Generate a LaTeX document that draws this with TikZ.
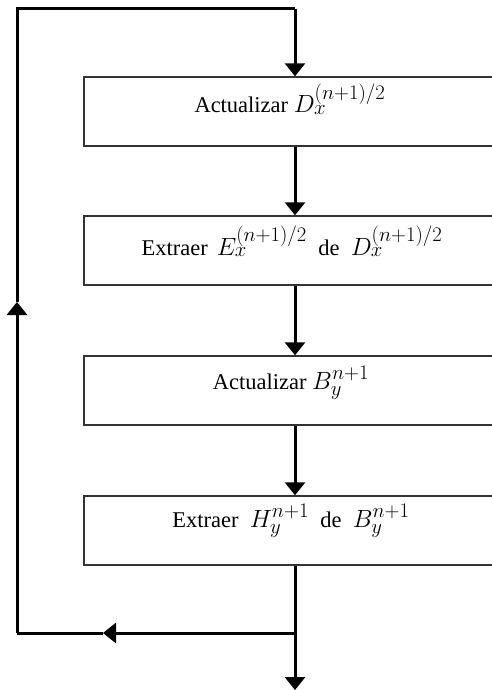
\documentclass[tikz,border=0pt]{standalone}
\usepackage{fontspec}
\setmainfont{Liberation Serif}
\DeclareMathSizes{22.5}{25}{19.5}{15}
\usetikzlibrary{arrows.meta}
\tikzset{
  flow/.style={line width=3pt, black},
  tip/.style={-{Triangle[width=20pt,length=13pt]}},
  box/.style={draw=black!80, line width=1.4pt, minimum width=422pt, minimum height=69pt, inner sep=0pt},
  txt/.style={font=\fontsize{22.5}{26}\selectfont, inner sep=0pt, anchor=base},
}
\begin{document}
\begin{tikzpicture}[x=1pt,y=-1pt]
\path[use as bounding box, clip] (0,0) rectangle (492,690);
% boxes
\node[box] (b1) at (295,111.5) {};
\node[box] (b2) at (295,250.5) {};
\node[box] (b3) at (295,390.5) {};
\node[box] (b4) at (295,530.5) {};
% texts
\node[txt] (t1) at (290,113) {Actualizar $D_x^{(n+1)/2}$};
\node[txt] (t2) at (292,255) {Extraer\hspace{0.4em}$E_x^{(n+1)/2}$\ \ de\ \ $D_x^{(n+1)/2}$};
\node[txt] (t3) at (291,389) {Actualizar $B_y^{n+1}$};
\node[txt] (t4) at (291,527) {Extraer\ \ $H_y^{n+1}$\ \ de\ \ $B_y^{n+1}$};
% coordinates
\coordinate (top) at (295,9);
\coordinate (tl) at (17,9);
\coordinate (mu) at (17,302);
\coordinate (bl) at (17,633);
\coordinate (ml) at (103,633);
\coordinate (br) at (295,633);
\coordinate (end) at (295,690);
% connectors
\draw[flow,tip] (top) -- (b1.north);
\draw[flow,tip] (b1.south) -- (b2.north);
\draw[flow,tip] (b2.south) -- (b3.north);
\draw[flow,tip] (b3.south) -- (b4.north);
\draw[flow,tip] (b4.south) -- (end);
\draw[flow,tip] (br) -- (ml);
\draw[flow] (ml) -- (bl);
\draw[flow,tip,line join=miter] (bl) -- (mu);
\draw[flow,line join=miter] (mu) -- (tl) -- (top);
\end{tikzpicture}
\end{document}
